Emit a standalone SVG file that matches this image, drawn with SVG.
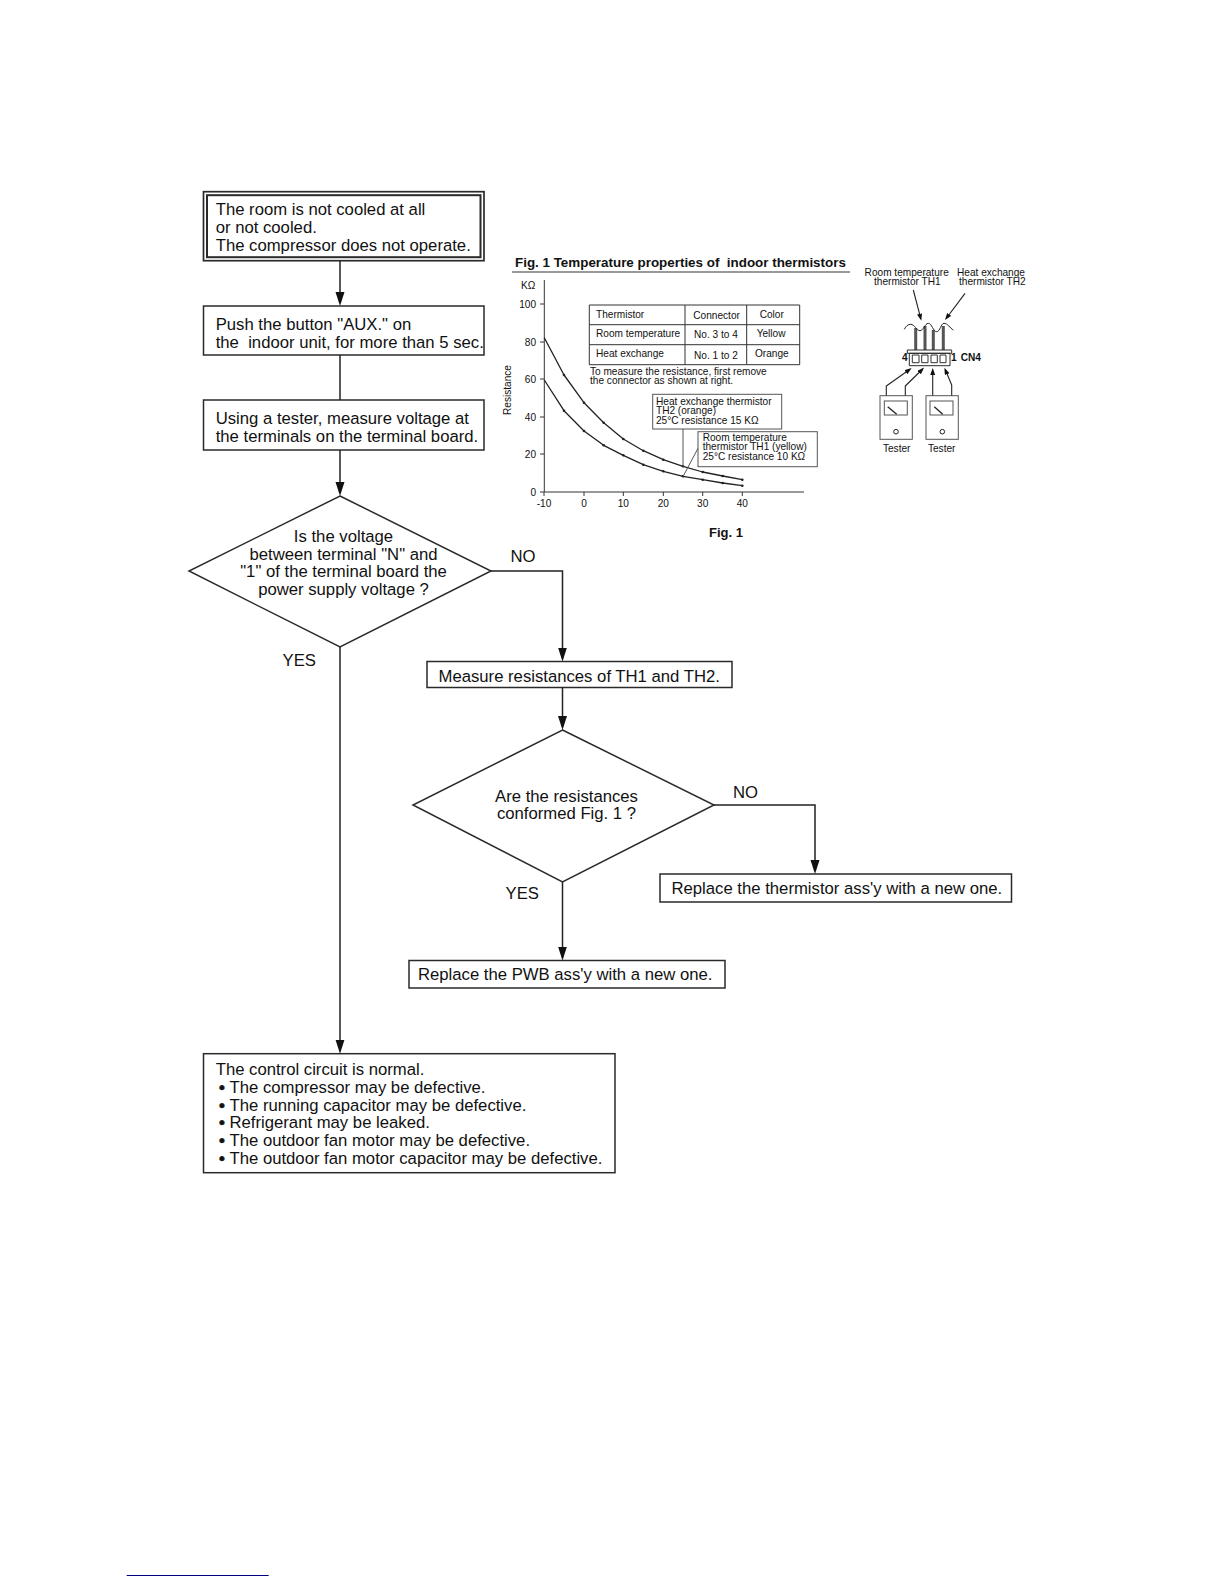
<svg xmlns="http://www.w3.org/2000/svg" width="1224" height="1584" viewBox="0 0 1224 1584">
<style>
text{font-family:"Liberation Sans",Arial,sans-serif;fill:#111;white-space:pre}
.t{font-size:16.7px}
.m{text-anchor:middle}
.b{fill:#fff;stroke:#2a2a2a;stroke-width:1.5}
.c{fill:none;stroke:#222;stroke-width:1.5}
.a{marker-end:url(#arr)}
.s{font-size:10.1px}
.g{fill:none;stroke:#333;stroke-width:1}
.h{font-weight:bold;font-size:13.4px}
.r{text-anchor:end}
.w{fill:none;stroke:#555;stroke-width:1}
.p{fill:none;stroke:#222;stroke-width:1.1;stroke-linejoin:round;marker-end:url(#sm)}
.l{fill:none;stroke:#222;stroke-width:1.3;stroke-linejoin:round}
.d{fill:#222}
.bu{stroke:#111;stroke-width:.7}
.x{font-weight:bold}
</style>
<defs>
<marker id="arr" markerUnits="userSpaceOnUse" markerWidth="14" markerHeight="10" refX="11" refY="4.500" orient="auto"><path d="M0 0L14 4.500L0 9z" fill="#111"/></marker>
<marker id="sm" markerUnits="userSpaceOnUse" markerWidth="8" markerHeight="6" refX="5" refY="2.500" orient="auto"><path d="M0 0L7 2.500L0 5z" fill="#111"/></marker>
</defs>
<g id="n-start">
<rect class="b" style="stroke-width:1.7" x="203.500" y="191.700" width="280.500" height="69"/>
<rect class="b" style="stroke-width:2" x="207" y="195.200" width="273.500" height="62"/>
<text class="t" x="215.700" y="215">The room is not cooled at all</text>
<text class="t" x="215.700" y="233">or not cooled.</text>
<text class="t" x="215.700" y="251">The compressor does not operate.</text>
</g>
<g id="n-push">
<rect class="b" x="203.500" y="306" width="280.500" height="49"/>
<text class="t" x="215.700" y="330">Push the button "AUX." on</text>
<text class="t" x="215.700" y="348">the  indoor unit, for more than 5 sec.</text>
</g>
<g id="n-measure-voltage">
<rect class="b" x="203.500" y="400" width="280.500" height="50"/>
<text class="t" x="215.700" y="424">Using a tester, measure voltage at</text>
<text class="t" x="215.700" y="442">the terminals on the terminal board.</text>
</g>
<g id="n-decision-voltage">
<path class="b" d="M340 496L491 571L340 647L189 571z"/>
<text class="t m" x="343.500" y="542">Is the voltage</text>
<text class="t m" x="343.500" y="559.500">between terminal "N" and</text>
<text class="t m" x="343.500" y="577">"1" of the terminal board the</text>
<text class="t m" x="343.500" y="595">power supply voltage ?</text>
</g>
<text class="t" id="l-no1" x="510.500" y="562">NO</text>
<text class="t" id="l-yes1" x="282.500" y="666">YES</text>
<g id="n-measure-res">
<rect class="b" x="427" y="661.500" width="305" height="26"/>
<text class="t" x="438.500" y="682">Measure resistances of TH1 and TH2.</text>
</g>
<g id="n-decision-res">
<path class="b" d="M562.500 730L714 805L562.500 882L413 805z"/>
<text class="t m" x="566.500" y="802">Are the resistances</text>
<text class="t m" x="566.500" y="819">conformed Fig. 1 ?</text>
</g>
<text class="t" id="l-no2" x="733" y="798">NO</text>
<text class="t" id="l-yes2" x="505.500" y="899">YES</text>
<g id="n-replace-th">
<rect class="b" x="660" y="874" width="351.500" height="28"/>
<text class="t" x="671.500" y="894">Replace the thermistor ass'y with a new one.</text>
</g>
<g id="n-replace-pwb">
<rect class="b" x="409" y="960.500" width="316" height="27.500"/>
<text class="t" x="418" y="980">Replace the PWB ass'y with a new one.</text>
</g>
<g id="n-normal">
<rect class="b" x="203.500" y="1053.700" width="411.500" height="119"/>
<text class="t" x="215.700" y="1075">The control circuit is normal.</text>
<text class="t" x="219" y="1093"><tspan class="bu">•</tspan><tspan x="229.500">The compressor may be defective.</tspan></text>
<text class="t" x="219" y="1110.500"><tspan class="bu">•</tspan><tspan x="229.500">The running capacitor may be defective.</tspan></text>
<text class="t" x="219" y="1128"><tspan class="bu">•</tspan><tspan x="229.500">Refrigerant may be leaked.</tspan></text>
<text class="t" x="219" y="1146"><tspan class="bu">•</tspan><tspan x="229.500">The outdoor fan motor may be defective.</tspan></text>
<text class="t" x="219" y="1163.500"><tspan class="bu">•</tspan><tspan x="229.500">The outdoor fan motor capacitor may be defective.</tspan></text>
</g>
<g id="connectors">
<path class="c a" d="M340 261V303"/>
<path class="c" d="M340 355V400"/>
<path class="c a" d="M340 450V493"/>
<path class="c a" d="M491 571H562.500V658.500"/>
<path class="c a" d="M340 647V1050.700"/>
<path class="c a" d="M562.500 687.500V727"/>
<path class="c a" d="M714 805H815V871"/>
<path class="c a" d="M562.500 882V957.500"/>
</g>
<g id="fig-chart">
<text class="h" x="515" y="267">Fig. 1 Temperature properties of  indoor thermistors</text>
<path d="M512 272H850" class="g"/>
<path class="g" d="M544.300 280V492H804M540 304H544M540 342H544M540 379H544M540 417H544M540 454H544M540 492H544M544 492V496M584 492V496M623.300 492V496M663.300 492V496M702.700 492V496M742.300 492V496"/>
<text class="s" x="521" y="288.500">KΩ</text>
<text class="s r" x="536" y="308">100</text>
<text class="s r" x="536" y="346">80</text>
<text class="s r" x="536" y="383">60</text>
<text class="s r" x="536" y="421">40</text>
<text class="s r" x="536" y="458">20</text>
<text class="s r" x="536" y="496">0</text>
<text class="s m" x="544" y="507">-10</text>
<text class="s m" x="584" y="507">0</text>
<text class="s m" x="623.300" y="507">10</text>
<text class="s m" x="663.300" y="507">20</text>
<text class="s m" x="702.700" y="507">30</text>
<text class="s m" x="742.300" y="507">40</text>
<text class="s m" transform="translate(511 390) rotate(-90)">Resistance</text>
<path class="l" d="M544.300 337.700L564 375L584 402.700L603.700 422.700L623.300 439L643.300 450.700L663.300 459.700L683 466.300L702.700 472L722.700 476L742.300 479.700"/>
<path class="l" d="M544.300 380L564 410.700L584 431L603.700 445.300L623.300 455.300L643.300 464.700L663.300 471.300L683 476.300L702.700 479.700L722.700 483L742.300 485.700"/>
<g class="d">
<circle cx="564" cy="375" r="1.300"/><circle cx="584" cy="402.700" r="1.300"/><circle cx="603.700" cy="422.700" r="1.300"/><circle cx="623.300" cy="439" r="1.300"/><circle cx="643.300" cy="450.700" r="1.300"/><circle cx="663.300" cy="459.700" r="1.300"/><circle cx="683" cy="466.300" r="1.300"/><circle cx="702.700" cy="472" r="1.300"/><circle cx="722.700" cy="476" r="1.300"/><circle cx="742.300" cy="479.700" r="1.300"/>
<circle cx="564" cy="410.700" r="1.300"/><circle cx="584" cy="431" r="1.300"/><circle cx="603.700" cy="445.300" r="1.300"/><circle cx="623.300" cy="455.300" r="1.300"/><circle cx="643.300" cy="464.700" r="1.300"/><circle cx="663.300" cy="471.300" r="1.300"/><circle cx="683" cy="476.300" r="1.300"/><circle cx="702.700" cy="479.700" r="1.300"/><circle cx="722.700" cy="483" r="1.300"/><circle cx="742.300" cy="485.700" r="1.300"/>
</g>
<path class="g" d="M589.300 305H799.700V364.700H589.300zM589.300 324.700H799.700M589.300 344.700H799.700M685 305V364.700M746.700 305V364.700"/>
<text class="s" x="596" y="318">Thermistor</text>
<text class="s" x="693.300" y="319.300">Connector</text>
<text class="s" x="759.700" y="318">Color</text>
<text class="s" x="596" y="337">Room temperature</text>
<text class="s" x="694" y="338.300">No. 3 to 4</text>
<text class="s" x="756.700" y="337">Yellow</text>
<text class="s" x="596" y="356.800">Heat exchange</text>
<text class="s" x="694" y="358.800">No. 1 to 2</text>
<text class="s" x="755" y="356.800">Orange</text>
<text class="s" x="590" y="374.500">To measure the resistance, first remove</text>
<text class="s" x="590" y="383.800">the connector as shown at right.</text>
<rect class="w" x="652.700" y="394.300" width="129" height="34.700"/>
<text class="s" x="656" y="404.500">Heat exchange thermistor</text>
<text class="s" x="656" y="414">TH2 (orange)</text>
<text class="s" x="656" y="423.500">25°C resistance 15 KΩ</text>
<path class="w" d="M683 429V466.700"/>
<rect class="w" x="698" y="431.700" width="119.300" height="35"/>
<text class="s" x="702.700" y="440.500">Room temperature</text>
<text class="s" x="702.700" y="450.300">thermistor TH1 (yellow)</text>
<text class="s" x="702.700" y="459.800">25°C resistance 10 KΩ</text>
<path class="w" d="M698 448.300L683.300 476"/>
<text class="h" style="font-size:13px" x="709" y="537.200">Fig. 1</text>
</g>
<g id="fig-connector">
<text class="s m" x="906.700" y="275.700">Room temperature</text>
<text class="s m" x="907.300" y="284.700">thermistor TH1</text>
<text class="s m" x="991" y="275.700">Heat exchange</text>
<text class="s m" x="992.300" y="284.700">thermistor TH2</text>
<path class="p" d="M913.300 290L920.800 318.700"/>
<path class="p" d="M965 293.300L946.200 318.500"/>
<path class="w" style="stroke-width:3" d="M915.700 328V350M925 326V350M933.300 330V350M943.300 326V350"/>
<path class="l" style="stroke-width:1" d="M904.300 329.300C906 326 908 324.300 910.700 324.300C914.500 324.300 916.500 330.700 920 330.700C923.500 330.700 925 323.300 928.300 323.300C932 323.300 933 331.700 936.700 331.700C940 331.700 941 323.300 944 323.300C947.500 323.300 950 328 953.300 330"/>
<path class="b" style="stroke-width:1" d="M907.300 350H951.700V353.300H907.300zM909.300 353.300H950V365.700H909.300z"/>
<path class="g" d="M912.300 355h6.700v7.700h-6.700zM921.700 355h6.300v7.700h-6.300zM931 355h6.300v7.700H931zM940 355h6v7.700h-6z"/>
<text class="s x" x="902" y="360.500">4</text>
<text class="s x" x="951" y="360.500">1</text>
<text class="s x" x="960.700" y="360.500">CN4</text>
<path class="p" d="M886.300 396V386L910 369.200"/>
<path class="p" d="M905.300 396V386L922.700 369"/>
<path class="p" d="M932.700 396V370"/>
<path class="p" d="M951.700 396V385L945.200 369.500"/>
<g id="tester-1">
<rect class="w" x="880" y="395.700" width="32.300" height="43.600"/>
<rect class="w" x="884.300" y="401" width="23" height="14"/>
<path class="l" d="M887.700 406.700L896.700 414.300"/>
<circle class="l" style="stroke-width:1" cx="896" cy="431.700" r="2.300"/>
<text class="s m" x="896.700" y="452">Tester</text>
</g>
<g id="tester-2">
<rect class="w" x="926" y="395.700" width="32.300" height="43.600"/>
<rect class="w" x="930" y="401" width="23" height="14"/>
<path class="l" d="M934.300 406.700L942.700 414.300"/>
<circle class="l" style="stroke-width:1" cx="942.300" cy="431.700" r="2.300"/>
<text class="s m" x="941.700" y="452">Tester</text>
</g>
</g>
<path id="page-rule" d="M126.700 1575.500H268.700" stroke="#000080" stroke-width="1"/>
</svg>
